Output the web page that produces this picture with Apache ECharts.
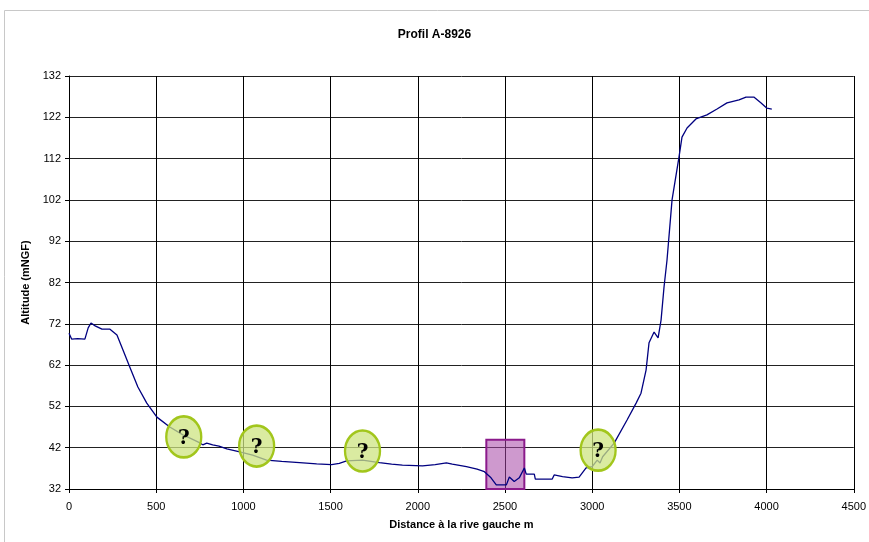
<!DOCTYPE html>
<html><head><meta charset="utf-8">
<script src="https://cdn.jsdelivr.net/npm/echarts@6/dist/echarts.min.js"></script>
<style>html,body{margin:0;padding:0;background:#fff}#c{width:869px;height:542px}</style>
</head><body><div id="c"></div>
<script>
const distances = [0,15,50,91,110,126,150,189,235,275,309,349,395,446,504,578,653,700,739,767,790,824,860,905,979,1053,1133,1220,1322,1420,1506,1550,1592,1683,1780,1850,1912,2027,2100,2164,2198,2279,2340,2382,2420,2450,2508,2525,2553,2582,2611,2622,2668,2674,2771,2782,2830,2885,2925,2965,3000,3029,3045,3060,3126,3200,3252,3280,3309,3326,3355,3378,3395,3412,3429,3458,3498,3515,3544,3595,3658,3716,3773,3842,3882,3927,3967,4002,4030];
const altitudes = [69.7,68.3,68.4,68.3,71.0,72.2,71.5,70.7,70.7,69.3,65.7,61.5,56.7,52.8,49.4,47.0,45.1,44.2,43.4,42.7,43.1,42.7,42.4,41.7,41.0,40.2,39.0,38.7,38.4,38.1,37.9,38.2,38.8,39.0,38.4,38.0,37.8,37.6,37.9,38.3,38.0,37.4,36.8,36.2,34.7,33.0,33.0,34.9,33.8,34.7,37.1,35.6,35.6,34.4,34.4,35.4,35.0,34.7,34.9,37.1,37.4,39.0,38.3,39.8,43.1,48.7,52.8,55.2,60.8,67.4,70.0,68.6,72.9,80.9,87.4,102.0,112.4,117.2,119.4,121.6,122.6,124.0,125.5,126.2,126.9,126.9,125.5,124.2,124.0];
const questionMarks = [[658,44.6],[1076,42.4],[1683,41.2],[3034,41.4]];
const boxArea = [[2393,31.6],[2611,43.9]];
const xTicks = [0,500,1000,1500,2000,2500,3000,3500,4000,4500];
const yTicks = [32,42,52,62,72,82,92,102,112,122,132];

const chart = echarts.init(document.getElementById('c'));
const font = 'Arial, "Liberation Sans", sans-serif';
chart.setOption({
  animation:false,
  backgroundColor:'#fff',
  graphic:[{type:'rect',shape:{x:4.5,y:10.5,width:880,height:560},style:{fill:'none',stroke:'#c8c8c8',lineWidth:1},z:-1}],
  title:{text:'Profil A-8926',left:'center',top:24,textStyle:{fontFamily:font,fontSize:12,fontWeight:'bold',color:'#000'}},
  grid:{left:69,right:11,top:76,bottom:53},
  xAxis:{type:'value',min:0,max:4500,interval:500,
    name:'Distance à la rive gauche m',nameLocation:'middle',nameGap:30,
    nameTextStyle:{fontFamily:font,fontSize:11,fontWeight:'bold',color:'#000'},
    axisLine:{lineStyle:{color:'#000'}},axisTick:{show:true,length:4,lineStyle:{color:'#000'}},
    axisLabel:{fontFamily:font,fontSize:11,color:'#000',margin:12,formatter:v=>xTicks.includes(v)?String(v):''},
    splitLine:{show:true,lineStyle:{color:'#000',width:1}}},
  yAxis:{type:'value',min:32,max:132,interval:10,
    name:'Altitude (mNGF)',nameLocation:'middle',nameGap:34,nameRotate:90,
    nameTextStyle:{fontFamily:font,fontSize:11,fontWeight:'bold',color:'#000'},
    axisLine:{show:true,lineStyle:{color:'#000'}},axisTick:{show:true,length:4,lineStyle:{color:'#000'}},
    axisLabel:{fontFamily:font,fontSize:11,color:'#000',margin:8,formatter:v=>yTicks.includes(v)?String(v):''},
    splitLine:{show:true,lineStyle:{color:'#222',width:1}}},
  series:[{
    type:'line',data:distances.map((d,i)=>[d,altitudes[i]]),showSymbol:false,
    lineStyle:{color:'#000080',width:1.3},clip:false,
    markArea:{silent:true,itemStyle:{color:'rgba(165,70,165,0.55)',borderColor:'#8b1a8b',borderWidth:2},
      data:[[{coord:boxArea[0]},{coord:boxArea[1]}]]},
    markPoint:{silent:true,symbol:'circle',symbolSize:[35,41],
      itemStyle:{color:'rgba(205,228,130,0.75)',borderColor:'#a2c61c',borderWidth:2.5},
      label:{show:true,formatter:'?',color:'#000',fontFamily:'"DejaVu Serif", serif',fontSize:20,fontWeight:'bold',offset:[0,2]},
      data:questionMarks.map(q=>({coord:q}))}
  }]
});
</script></body></html>
